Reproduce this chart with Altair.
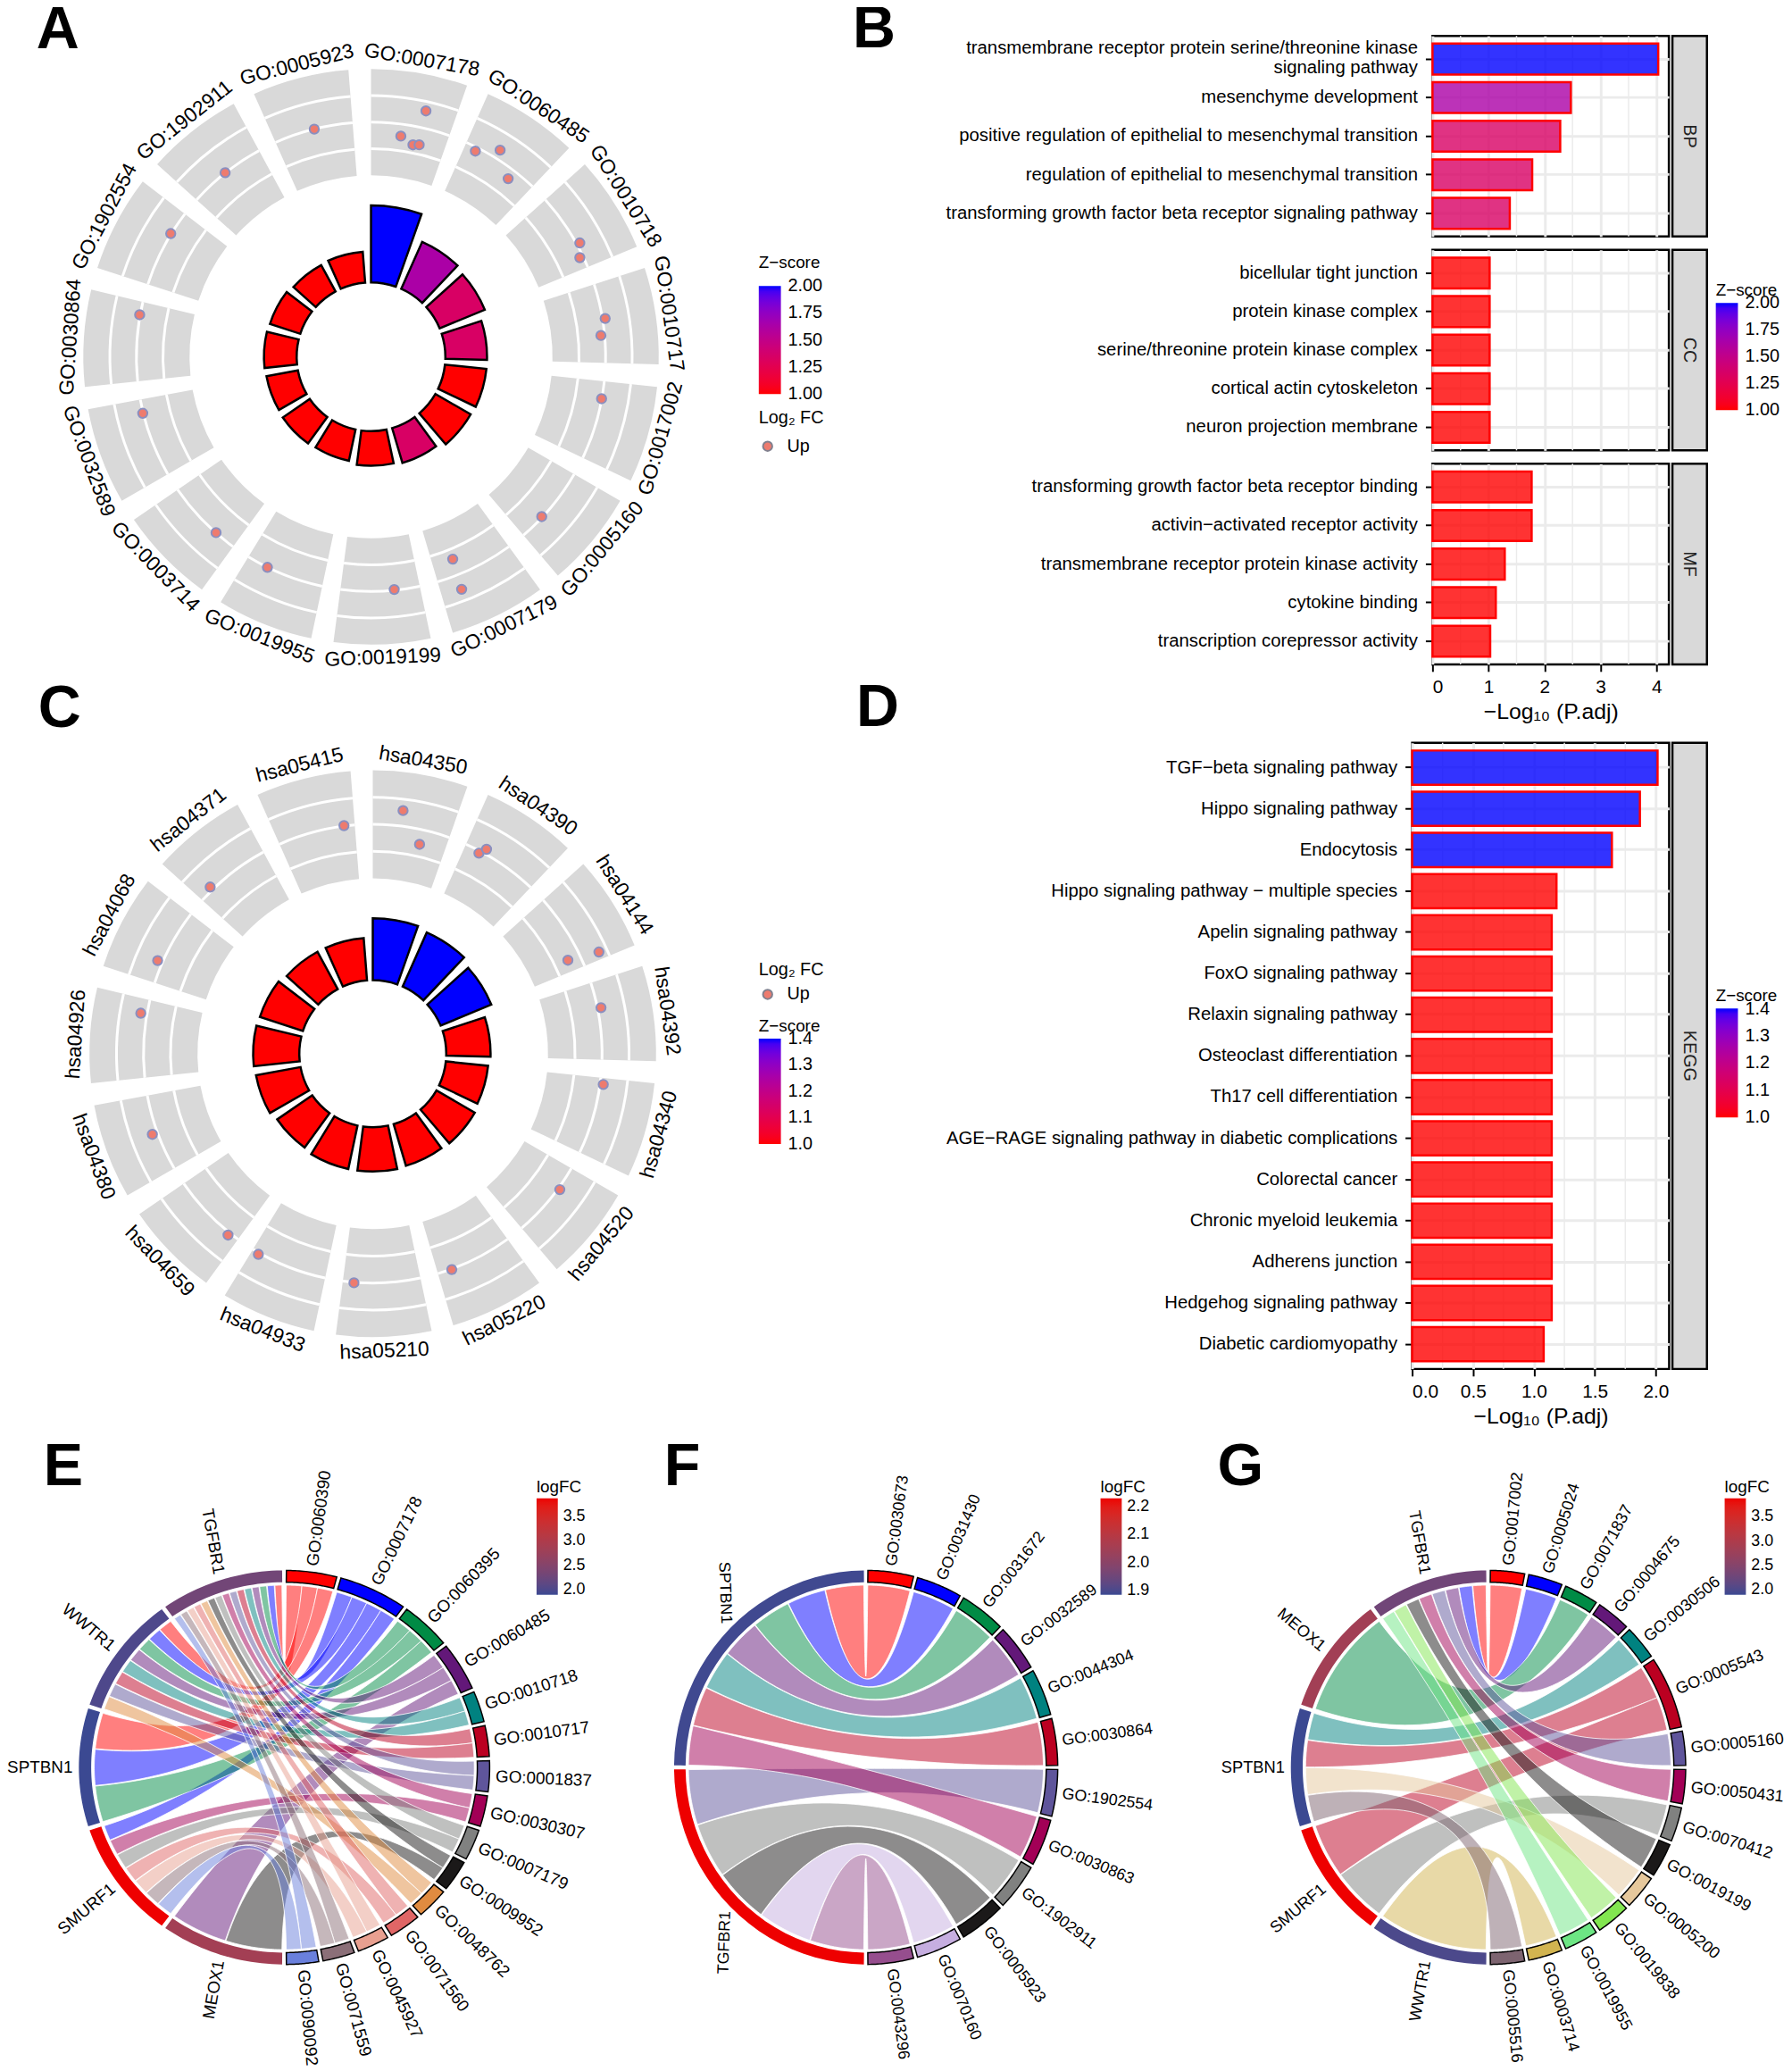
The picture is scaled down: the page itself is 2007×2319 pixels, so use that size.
import math
import altair as alt
import pandas as pd

SANS = "Liberation Sans"

A_terms = ["GO:0007178","GO:0060485","GO:0010718","GO:0010717","GO:0017002","GO:0005160","GO:0007179",
           "GO:0019199","GO:0019955","GO:0003714","GO:0032589","GO:0030864","GO:1902554","GO:1902911","GO:0005923"]
A_padj = [4.03,2.69,2.55,2.18,2.18,2.13,1.90,1.81,1.67,1.71,1.67,1.71,1.67,1.57,1.62]
A_z = [2.0,1.63,1.34,1.34,1.0,1.0,1.34,1.0,1.0,1.0,1.0,1.0,1.0,1.0,1.0]
A_dot_theta = [12.6,7.7,11.2,12.8,26.9,32.0,37.6,61.4,64.6,80.7,84.7,100.3,133.1,158.0,158.7,174.3,206.2,221.4,256.1,280.3,301.6,321.6,346.0]
A_dot_lfc = [2.65,1.55,1.30,1.35,1.85,2.34,1.63,2.12,1.87,2.10,1.86,1.99,1.97,1.38,2.56,1.97,2.0,1.99,2.02,2.02,2.02,2.01,2.0]

C_terms = ["hsa04350","hsa04390","hsa04144","hsa04392","hsa04340","hsa04520","hsa05220","hsa05210",
           "hsa04933","hsa04659","hsa04380","hsa04926","hsa04068","hsa04371","hsa05415"]
C_padj = [2.0,1.91,1.77,1.43,1.37,1.43,1.40,1.43,1.43,1.37,1.46,1.49,1.46,1.37,1.37]
C_z = [1.4,1.4,1.4,1,1,1,1,1,1,1,1,1,1,1,1]
C_dot_theta = [7.1,12.6,27.9,29.1,64.4,65.8,78.6,97.6,126.0,159.9,184.7,209.7,218.6,249.9,279.9,293.4,315.7,352.8]
C_dot_lfc = [2.58,1.45,1.91,2.17,1.52,2.69,2.13,2.12,2.07,2.02,2.02,2.06,2.10,2.20,2.23,2.19,2.13,2.02]

B_groups = ["BP","CC","MF"]
B_labels = [
 ["transmembrane receptor protein serine/threonine kinase|signaling pathway","mesenchyme development",
  "positive regulation of epithelial to mesenchymal transition","regulation of epithelial to mesenchymal transition",
  "transforming growth factor beta receptor signaling pathway"],
 ["bicellular tight junction","protein kinase complex","serine/threonine protein kinase complex",
  "cortical actin cytoskeleton","neuron projection membrane"],
 ["transforming growth factor beta receptor binding","activin\u2212activated receptor activity",
  "transmembrane receptor protein kinase activity","cytokine binding","transcription corepressor activity"]]
B_vals = [[4.03,2.47,2.28,1.78,1.38],[1.02,1.02,1.02,1.02,1.02],[1.77,1.77,1.29,1.13,1.03]]
B_zs = [[2.0,1.63,1.34,1.34,1.34],[1,1,1,1,1],[1,1,1,1,1]]

D_labels = ["TGF\u2212beta signaling pathway","Hippo signaling pathway","Endocytosis","Hippo signaling pathway \u2212 multiple species",
 "Apelin signaling pathway","FoxO signaling pathway","Relaxin signaling pathway","Osteoclast differentiation",
 "Th17 cell differentiation","AGE\u2212RAGE signaling pathway in diabetic complications","Colorectal cancer",
 "Chronic myeloid leukemia","Adherens junction","Hedgehog signaling pathway","Diabetic cardiomyopathy"]
D_vals = [2.015,1.87,1.64,1.185,1.146,1.146,1.146,1.146,1.146,1.146,1.146,1.146,1.146,1.146,1.08]
D_zs = [1.4,1.4,1.4,1,1,1,1,1,1,1,1,1,1,1,1]

E_genes = ["TGFBR1","WWTR1","SPTBN1","SMURF1","MEOX1"]
E_fc = [2.3,2.0,1.89,3.88,2.85]
E_rot = [80,40,0,-40,-80]
E_terms = ["GO:0060390","GO:0007178","GO:0060395","GO:0060485","GO:0010718","GO:0010717","GO:0001837","GO:0030307",
           "GO:0007179","GO:0009952","GO:0048762","GO:0071560","GO:0045927","GO:0071559","GO:0090092"]
E_cols = ["#FF0000","#0000FF","#008B45","#631879","#008280","#BB0021","#5F559B","#A20056","#808180","#1B1919",
          "#E08B40","#E06666","#E8A090","#8B6F78","#6A80DC"]
E_links = [list(range(15)),[0,1,2,3,4,5,6,10],[0,1,2],[1,7,8,11,12,13,14],[3,9]]

F_genes = ["SPTBN1","TGFBR1"]
F_fc = [1.89,2.23]
F_rot = [88,-88]
F_terms = ["GO:0030673","GO:0031430","GO:0031672","GO:0032589","GO:0044304","GO:0030864","GO:1902554","GO:0030863",
           "GO:1902911","GO:0005923","GO:0070160","GO:0043296"]
F_cols = ["#FF0000","#0000FF","#008B45","#631879","#008280","#BB0021","#5F559B","#A20056","#808180","#1B1919","#C6AEE0","#964E8E"]
F_links = [[0,1,2,3,4,5,7],[6,8,9,10,11]]

G_genes = ["TGFBR1","MEOX1","SPTBN1","SMURF1","WWTR1"]
G_fc = [2.3,2.85,1.9,3.88,2.0]
G_rot = [80,40,0,-40,-80]
G_terms = ["GO:0017002","GO:0005024","GO:0071837","GO:0004675","GO:0030506","GO:0005543","GO:0005160","GO:0050431",
           "GO:0070412","GO:0019199","GO:0005200","GO:0019838","GO:0019955","GO:0003714","GO:0005516"]
G_cols = ["#FF0000","#0000FF","#008B45","#631879","#008280","#BB0021","#5F559B","#A20056","#808180","#1B1919",
          "#E6C89C","#82E650","#6DE684","#D2B450","#7D6470"]
G_links = [[0,1,3,6,7,9,11,12],[2],[4,5,10,14],[5,8],[13]]


def R(c):
    return c.resolve_scale(color="independent", fill="independent", theta="independent", radius="independent",
                           angle="independent", shape="independent", size="independent")


def letter(t, x, y):
    return alt.Chart(pd.DataFrame({"t": [t]})).mark_text(
        font=SANS, fontWeight="bold", fontSize=67, align="left", baseline="alphabetic", color="black"
    ).encode(text="t:N", x=alt.value(x), y=alt.value(y))


def zleg(title, lx, ly, values, fmt, length, tp=4):
    return alt.Legend(title=title, orient="none", legendX=lx, legendY=ly, values=values, format=fmt,
                      gradientLength=length, gradientThickness=25, gradientStrokeWidth=0,
                      titleFont=SANS, titleFontSize=19, titleFontWeight="normal", titleColor="black",
                      labelFont=SANS, labelFontSize=20, labelColor="black", labelOffset=8,
                      titlePadding=tp, labelOverlap=False, padding=0)


def circle_panel(W, H, cx, cy, terms, padj, z, dth, dlfc, r0, r1, b0, b1, bmax, zdom, zvals, zfmt, zlen,
                 lab_r, zx, zy, ztp, fx, fy, ftp, extra):
    ts = alt.Scale(domain=[0, 360], range=[0, 2 * math.pi])
    rs = alt.Scale(domain=[0, 4], range=[r0, r1])
    bs = alt.Scale(domain=[0, bmax], range=[b0, b1])
    xs = alt.Scale(domain=[-cx, W - cx])
    ys = alt.Scale(domain=[cy - H, cy])
    sect = pd.DataFrame({"term": terms, "t0": [24 * i for i in range(len(terms))],
                         "t1": [24 * i + 19.5 for i in range(len(terms))],
                         "v0": 0, "v1": 4, "padj": padj, "z": z, "b0": 0})
    ctr = dict(x=alt.value(cx), y=alt.value(cy))
    grey = alt.Chart(sect).mark_arc(color="#D9D9D9").encode(
        theta=alt.Theta("t0:Q", scale=ts, stack=None), theta2="t1:Q",
        radius=alt.Radius("v0:Q", scale=rs), radius2="v1:Q", **ctr)
    rings = pd.DataFrame([{"t0": 24 * i, "t1": 24 * i + 19.5, "a": v - 0.05, "b": v + 0.05}
                          for i in range(len(terms)) for v in (1, 2, 3)])
    white = alt.Chart(rings).mark_arc(color="white").encode(
        theta=alt.Theta("t0:Q", scale=ts, stack=None), theta2="t1:Q",
        radius=alt.Radius("a:Q", scale=rs), radius2="b:Q", **ctr)
    bars = alt.Chart(sect).mark_arc(stroke="black", strokeWidth=2.5).encode(
        theta=alt.Theta("t0:Q", scale=ts, stack=None), theta2="t1:Q",
        radius=alt.Radius("b0:Q", scale=bs), radius2="padj:Q",
        color=alt.Color("z:Q", scale=alt.Scale(domain=zdom, range=["#FF0000", "#0000FF"], interpolate="lab"),
                        legend=zleg("Z\u2212score", zx, zy, zvals, zfmt, zlen, ztp)), **ctr)
    dots = pd.DataFrame({"theta": dth, "lfc": dlfc})
    dots["r"] = r0 + dots["lfc"] / 4 * (r1 - r0)
    dots["x"] = [r * math.sin(math.radians(t)) for r, t in zip(dots["r"], dots["theta"])]
    dots["y"] = [r * math.cos(math.radians(t)) for r, t in zip(dots["r"], dots["theta"])]
    dots["dir"] = "Up"
    pts = alt.Chart(dots).mark_point(filled=True, size=110, stroke="#8A8FC0", strokeWidth=2, opacity=1).encode(
        x=alt.X("x:Q", scale=xs, axis=None), y=alt.Y("y:Q", scale=ys, axis=None),
        fill=alt.Fill("dir:N", scale=alt.Scale(domain=["Up"], range=["#EE7B6E"]),
                      legend=alt.Legend(title="Log\u2082 FC", orient="none", legendX=fx, legendY=fy,
                                        titleFont=SANS, titleFontSize=20, titleFontWeight="normal", titleColor="black",
                                        labelFont=SANS, labelFontSize=20, labelColor="black", symbolSize=110,
                                        symbolStrokeColor="#80808F", symbolStrokeWidth=2, titlePadding=ftp, labelOffset=12, padding=0)))
    labs = []
    for i, t in enumerate(terms):
        th = 24 * i + 9.75
        labs.append({"t": t, "x": lab_r * math.sin(math.radians(th)), "y": lab_r * math.cos(math.radians(th)),
                     "angle": th if (th < 90 or th > 270) else (th + 180) % 360})
    texts = alt.Chart(pd.DataFrame(labs)).mark_text(font=SANS, fontSize=23, color="black").encode(
        x=alt.X("x:Q", scale=xs, axis=None), y=alt.Y("y:Q", scale=ys, axis=None), text="t:N",
        angle=alt.Angle("angle:Q", scale=None))
    return alt.layer(grey, white, bars, pts, texts, *extra).resolve_scale(radius="independent").properties(width=W, height=H)


def bar_panel(labels, vals, zs, h, xmax, ticks, minors, zdom, pi, po, ext, last, fmt):
    df = pd.DataFrame({"term": labels, "v": vals, "z": zs})
    xs = alt.Scale(domain=[0, xmax])
    xaxis = alt.Axis(values=ticks, format=fmt, grid=True, gridColor="#EBEBEB", gridWidth=3, domain=False,
                     labels=last, ticks=last, tickSize=8, tickWidth=2, tickColor="black",
                     labelFont=SANS, labelFontSize=21, labelColor="black", labelPadding=7,
                     title="\u2212Log\u2081\u2080 (P.adj)" if last else None, titleFont=SANS, titleFontSize=25,
                     titleFontWeight="normal", titleColor="black", titlePadding=5)
    minor = alt.Chart(pd.DataFrame({"m": minors})).mark_rule(color="#EBEBEB", strokeWidth=1.5).encode(
        x=alt.X("m:Q", scale=xs, axis=xaxis))
    bars = alt.Chart(df).mark_bar(stroke="#FF0000", strokeWidth=2.5, fillOpacity=0.8).encode(
        x=alt.X("v:Q", scale=xs, axis=xaxis),
        y=alt.Y("term:N", sort=labels, scale=alt.Scale(paddingInner=pi, paddingOuter=po),
                axis=alt.Axis(title=None, grid=True, gridColor="#EBEBEB", gridWidth=3, domain=False, tickSize=8,
                              tickWidth=2, tickColor="black", labelFont=SANS, labelFontSize=20.5, labelColor="black",
                              labelPadding=9, labelLimit=700, minExtent=ext, maxExtent=ext,
                              labelOffset=alt.expr("indexof(datum.value,'|')>=0?-12:0"),
                              labelExpr="split(datum.label,'|')")),
        color=alt.Color("z:Q", scale=alt.Scale(domain=zdom, range=["#FF0000", "#0000FF"], interpolate="lab"), legend=None))
    return alt.layer(minor, bars).properties(width=(xmax * (267 / 4.22 if xmax > 3 else 290.3 / 2.11)), height=h,
                                             view=alt.ViewConfig(stroke="black", strokeWidth=2.5))


def strip(label, h, leg=None, zdom=None):
    df = pd.DataFrame({"g": [label]})
    txt = alt.Chart(df).mark_text(angle=90, font=SANS, fontSize=20, color="#222222").encode(
        text="g:N", x=alt.value(19.5), y=alt.value(h / 2))
    layers = [txt]
    if leg is not None:
        d = pd.DataFrame({"z": zdom})
        layers.append(alt.Chart(d).mark_point(size=0, filled=True, opacity=1).encode(
            x=alt.value(0), y=alt.value(0),
            color=alt.Color("z:Q", scale=alt.Scale(domain=zdom, range=["#FF0000", "#0000FF"], interpolate="lab"), legend=leg)))
    return alt.layer(*layers).properties(width=39, height=h,
                                         view=alt.ViewConfig(fill="#D9D9D9", stroke="black", strokeWidth=2.5))


def spacer(h):
    return alt.Chart(pd.DataFrame({"a": [0]})).mark_point(size=0, opacity=0).encode(
        x=alt.value(0), y=alt.value(0)).properties(width=1, height=h)


def arc_pts(a0, a1, rx, ry, n=24):
    return [(rx * math.sin(math.radians(a0 + (a1 - a0) * i / n)), ry * math.cos(math.radians(a0 + (a1 - a0) * i / n)))
            for i in range(n + 1)]


def quad(p, q, n=40):
    out = []
    for i in range(1, n):
        t = i / n
        out.append(((1 - t) ** 2 * p[0] + t ** 2 * q[0], (1 - t) ** 2 * p[1] + t ** 2 * q[1]))
    return out


def chord(W, H, cx, cy, rx, ry, genes, fc, rot, terms, cols, links, fdom, fvals, ffmt, fs, lx, ly, gap, ltext):
    def feature(pts, **props):
        ring = [[p[0] + cx, p[1] - cy] for p in pts]
        ring.append(list(ring[0]))
        return {"type": "Feature", "properties": props, "geometry": {"type": "Polygon", "coordinates": [ring]}}

    counts = [sum(i in l for l in links) for i in range(len(terms))]
    unit = 180 / sum(counts)
    gw = 180 / len(genes)
    starts = []
    acc = 0
    for c in counts:
        starts.append(acc)
        acc += c
    used = [0] * len(terms)
    ribbons, term_rings, gene_rings, rlabels, llabels = [], [], [], [], []
    for i, t in enumerate(terms):
        a0 = starts[i] * unit + gap / 2
        a1 = (starts[i] + counts[i]) * unit - gap / 2
        term_rings.append(feature(arc_pts(a0, a1, rx, ry) + arc_pts(a1, a0, rx * 0.94, ry * 0.94), color=cols[i]))
        m = (a0 + a1) / 2
        rlabels.append({"t": t, "x": (rx + 7) * math.sin(math.radians(m)), "y": (ry + 7) * math.cos(math.radians(m)), "angle": (m - 90) % 360})
    for j, g in enumerate(genes):
        hi = 360 - j * gw - gap / 2
        lo = 360 - (j + 1) * gw + gap / 2
        gene_rings.append(feature(arc_pts(lo, hi, rx, ry) + arc_pts(hi, lo, rx * 0.94, ry * 0.94), fc=fc[j]))
        m = (lo + hi) / 2
        llabels.append({"t": g, "x": (rx + 7) * math.sin(math.radians(m)), "y": (ry + 7) * math.cos(math.radians(m)), "angle": rot[j] % 360})
        s = (hi - lo) / len(links[j])
        for k, ti in enumerate(links[j]):
            b1 = hi - k * s - 0.1
            b0 = hi - (k + 1) * s + 0.1
            ta = starts[ti] * unit + gap / 2
            tb = (starts[ti] + counts[ti]) * unit - gap / 2
            ts = (tb - ta) / counts[ti]
            a0 = ta + used[ti] * ts
            a1 = a0 + ts
            used[ti] += 1
            rrx, rry = rx * 0.925, ry * 0.925
            A = arc_pts(a0, a1, rrx, rry)
            B = arc_pts(b0, b1, rrx, rry)
            pts = A + quad(A[-1], B[0]) + B + quad(B[-1], A[0])
            ribbons.append((ti, feature(pts, color=cols[ti])))
    ribbons = [f for _, f in sorted(ribbons, key=lambda z: z[0])]
    leg = alt.Legend(title="logFC", orient="none", legendX=lx, legendY=ly, values=fvals, format=ffmt,
                     gradientLength=109, gradientThickness=24, gradientStrokeWidth=0,
                     titleFont=SANS, titleFontSize=19, titleFontWeight="normal", titleColor="black",
                     labelFont=SANS, labelFontSize=18, labelColor="black", labelOffset=6,
                     titlePadding=3, labelOverlap=False, padding=0)
    fillenc = alt.Fill("properties.fc:Q", scale=alt.Scale(domain=fdom, range=["#3B4992", "#EE0000"], interpolate="lab"), legend=leg)
    colorenc = alt.Color("properties.color:N", scale=None)
    proj = dict(type="identity", reflectY=True, scale=1, translate=[0, 0])
    rib = alt.Chart(alt.Data(values=ribbons)).mark_geoshape(fillOpacity=0.5, stroke="white", strokeWidth=0.8).encode(color=colorenc).project(**proj)
    tr = alt.Chart(alt.Data(values=term_rings)).mark_geoshape(stroke="black", strokeWidth=1.5).encode(color=colorenc).project(**proj)
    gr = alt.Chart(alt.Data(values=gene_rings)).mark_geoshape(stroke=None).encode(fill=fillenc).project(**proj)
    xs = alt.Scale(domain=[-cx, W - cx])
    ys = alt.Scale(domain=[cy - H, cy])
    rt = alt.Chart(pd.DataFrame(rlabels)).mark_text(font=SANS, fontSize=fs, align="left", color="black").encode(
        x=alt.X("x:Q", scale=xs, axis=None), y=alt.Y("y:Q", scale=ys, axis=None), text="t:N", angle=alt.Angle("angle:Q", scale=None))
    lt = alt.Chart(pd.DataFrame(llabels)).mark_text(font=SANS, fontSize=fs, align="right", color="black").encode(
        x=alt.X("x:Q", scale=xs, axis=None), y=alt.Y("y:Q", scale=ys, axis=None), text="t:N", angle=alt.Angle("angle:Q", scale=None))
    return alt.layer(rib, gr, tr, rt, lt, ltext).properties(width=W, height=H)


H1, H2, H3 = 815, 787, 709
A = circle_panel(1032, H1, 406, 394, A_terms, A_padj, A_z, A_dot_theta, A_dot_lfc, 205, 325, 84, 171, 4.03,
                 [1, 2], [1.001, 1.25, 1.5, 1.75, 1.999], ".2f", 122, 340, 844, 279, 16, 844, 453, 12,
                 [letter("A", 28, 46), letter("B", 950, 44), letter("C", 30, 812), letter("D", 954, 811)])
C = circle_panel(1032, H2, 408, 356, C_terms, C_padj, C_z, C_dot_theta, C_dot_lfc, 198, 320, 83, 153, 2.0,
                 [1, 1.4], [1.001, 1.1, 1.2, 1.3, 1.399], ".1f", 119, 336, 844, 316, 4, 844, 251, 8, [])

rows = [spacer(19)]
legB = zleg("Z\u2212score", 49, 37, [1.001, 1.25, 1.5, 1.75, 1.999], ".2f", 121)
for i, g in enumerate(B_groups):
    rows.append(R(alt.hconcat(
        bar_panel(B_labels[i], B_vals[i], B_zs[i], 226.5, 4.22, [0, 1, 2, 3, 4], [0.5, 1.5, 2.5, 3.5], [1, 2], 0.2, 0.2, 571, i == 2, "d"),
        strip(g, 226.5, legB if i == 1 else None, [1, 2]), spacing=0)))
B = R(alt.vconcat(*rows, spacing=10.6))

legD = zleg("Z\u2212score", 49, 277, [1.001, 1.1, 1.2, 1.3, 1.399], ".1f", 123)
D = R(alt.vconcat(spacer(3), R(alt.hconcat(
    bar_panel(D_labels, D_vals, D_zs, 707, 2.11, [0, 0.5, 1, 1.5, 2], [0.25, 0.75, 1.25, 1.75], [1, 1.4], 0.168, 0.185, 548, True, ".1f"),
    strip("KEGG", 707, legD, [1, 1.4]), spacing=0)), spacing=0))

E = chord(712, H3, 308, 375, 232, 222.5, E_genes, E_fc, E_rot, E_terms, E_cols, E_links, [1.89, 3.88], [2, 2.5, 3, 3.5], ".1f", 19,
          593, 49, 1.2, letter("E", 36, 56))
F = chord(640, H3, 253, 375, 216.7, 222.5, F_genes, F_fc, F_rot, F_terms, F_cols, F_links, [1.885, 2.23], [1.9, 2.0, 2.1, 2.2], ".1f", 18,
          518, 49, 1.2, letter("F", 25, 56))
G = chord(639, H3, 316, 375, 223, 222.5, G_genes, G_fc, G_rot, G_terms, G_cols, G_links, [1.9, 3.88], [2, 2.5, 3, 3.5], ".1f", 18.4,
          583, 49, 1.2, letter("G", 10, 56))

chart = R(alt.vconcat(R(alt.hconcat(A, B, spacing=0)), R(alt.hconcat(C, D, spacing=0)), R(alt.hconcat(E, F, G, spacing=0)), spacing=0)).properties(
    padding={"left": 0, "right": 0, "top": -19, "bottom": 0}).configure_view(stroke=None)
chart.save("out.html", embed_options={"renderer": "svg", "actions": False})
